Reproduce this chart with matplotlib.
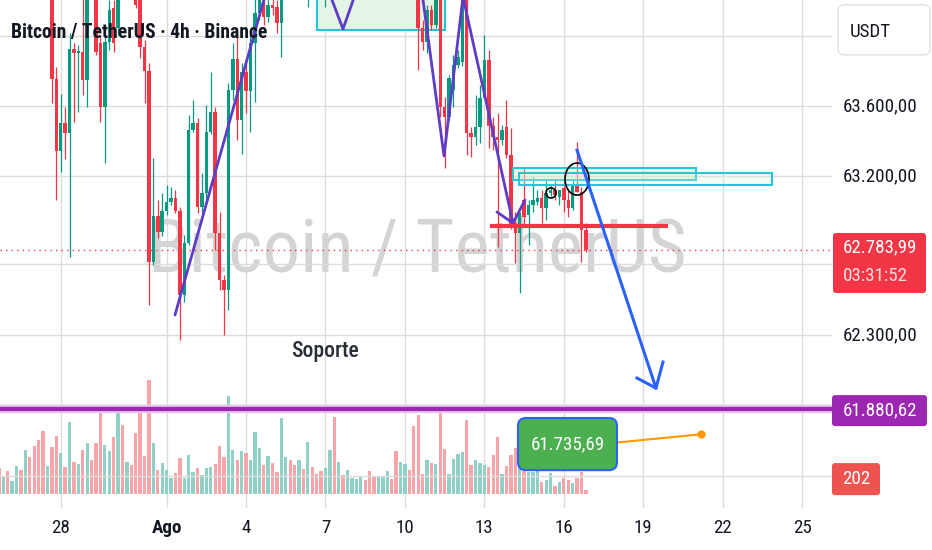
import numpy as np
import matplotlib
matplotlib.use("Agg")
import matplotlib.pyplot as plt
from matplotlib.patches import Rectangle, Ellipse, FancyBboxPatch
from matplotlib import font_manager

# ---------------- data ----------------
# 4h candles, x = days from 28 Jul 00:00 (k/6), first candle k=-14
first_k = -14
opens = [64486, 64401, 64475, 64372, 64441, 64588, 64514, 64702, 64600, 64497, 64361, 64287, 64429, 63753,
         63344, 63503, 63447, 63924, 63901, 63907, 63748, 64372, 64259, 63958, 63594, 63963, 64157, 64043,
         64429, 64316, 64458, 64316, 64230, 63935, 63799, 62714, 62975, 62884, 63004, 63055, 63077, 63004,
         62526, 62822, 63464, 63503, 63026, 63106, 63452, 63566, 62879, 62612, 62555, 63691, 63867, 63520,
         63793, 63685, 63958, 64128, 64174, 64105, 64174, 64162, 64071, 64259, 64429, 64361, 64270, 64384,
         64304, 64475, 64401, 64327, 64259, 64418, 64571, 64372, 64486, 64429, 64514, 64566, 64600, 64645,
         64588, 64520, 64475, 64543, 64588, 64656, 64611, 64458, 64554, 64628, 64554, 64287, 64043, 63963,
         64145, 64060, 64316, 63594, 63537, 63691, 63833, 63850, 64372, 63447, 63424, 63481, 63645, 63861,
         63486, 63424, 63407, 63481, 63322, 62935, 62879, 63066, 62981, 63038, 63055, 63077, 63021, 63106,
         63123, 63083, 63134, 63066, 63021, 63151, 63111, 62896]
highs = [64554, 64514, 64531, 64486, 64628, 64656, 64742, 64770, 64645, 64543, 64458, 64486, 64475, 63821,
         63668, 63594, 64015, 63958, 63946, 64230, 64287, 64429, 64316, 64003, 64003, 64202, 64202, 64344,
         64486, 64514, 64514, 64372, 64287, 63975, 63844, 63305, 63066, 63106, 63151, 63140, 63123, 63026,
         62867, 63549, 63634, 63532, 63219, 63606, 63793, 63594, 62998, 62640, 63731, 63958, 64015, 63844,
         63844, 64015, 64230, 64372, 64230, 64230, 64230, 64202, 64316, 64475, 64486, 64401, 64429, 64441,
         64514, 64543, 64458, 64372, 64458, 64628, 64713, 64531, 64543, 64554, 64600, 64645, 64685, 64685,
         64645, 64566, 64577, 64622, 64690, 64702, 64656, 64600, 64668, 64679, 64600, 64344, 64088, 64174,
         64174, 64372, 64372, 63651, 63776, 63890, 63918, 64429, 64458, 63481, 63662, 63719, 64003, 63918,
         63537, 63560, 63492, 63634, 63475, 62998, 62998, 63248, 63066, 63197, 63123, 63123, 63180, 63151,
         63180, 63123, 63168, 63123, 63180, 63396, 63140, 62935]
lows = [64344, 64361, 64316, 64327, 64418, 64458, 64486, 64543, 64429, 64304, 64247, 64259, 63617, 63066,
        63225, 63299, 62742, 63509, 63566, 63662, 63594, 64213, 63890, 63509, 63276, 63918, 63907, 64003,
        64259, 64270, 64287, 64157, 63873, 63617, 62470, 62697, 62850, 62862, 62981, 63038, 62992, 62271,
        62487, 62810, 63452, 62992, 62992, 63066, 63441, 62782, 62555, 62299, 62441, 63634, 63407, 63327,
        63560, 63452, 63623, 64088, 64060, 64077, 64117, 64015, 63878, 64230, 64316, 64230, 64236, 64259,
        64162, 64344, 64287, 64225, 64162, 64372, 64316, 64327, 64372, 64384, 64486, 64531, 64571, 64554,
        64486, 64441, 64441, 64509, 64554, 64577, 64401, 64418, 64514, 64514, 64230, 63804, 63918, 63901,
        64032, 64043, 63537, 63248, 63520, 63594, 63816, 63827, 63322, 63310, 63378, 63390, 63645, 63361,
        63350, 62799, 63378, 63305, 62901, 62708, 62538, 62913, 62810, 62998, 63038, 62935, 62952, 63089,
        63066, 63038, 62998, 62969, 63009, 63111, 62714, 62771]
closes = [64401, 64475, 64372, 64441, 64588, 64514, 64702, 64600, 64497, 64361, 64287, 64429, 63753, 63344,
          63503, 63447, 63924, 63901, 63912, 63748, 64247, 64230, 63907, 63594, 63963, 64145, 63958, 64287,
          64316, 64458, 64344, 64174, 63935, 63799, 62714, 62975, 62884, 63004, 63055, 63077, 63004, 62526,
          62822, 63464, 63503, 63026, 63106, 63452, 63566, 62879, 62612, 62555, 63691, 63867, 63520, 63793,
          63685, 63958, 64128, 64316, 64105, 64174, 64157, 64071, 64259, 64429, 64361, 64270, 64384, 64304,
          64475, 64401, 64327, 64259, 64418, 64571, 64372, 64486, 64429, 64514, 64566, 64600, 64645, 64588,
          64520, 64475, 64543, 64588, 64656, 64611, 64458, 64554, 64628, 64554, 64287, 64043, 63963, 64145,
          64060, 64316, 63594, 63537, 63759, 63833, 63878, 64372, 63447, 63424, 63481, 63645, 63861, 63486,
          63424, 63407, 63464, 63322, 62913, 62879, 62992, 62969, 63038, 63066, 63077, 63021, 63106, 63123,
          63094, 63123, 63066, 63021, 63151, 63111, 62896, 62783.99]
volumes = [1170, 810, 1035, 585, 1260, 1080, 1980, 1665, 2160, 2430, 2835, 1260, 2115, 2610,
           1845, 1215, 3240, 1440, 1350, 1980, 2295, 1530, 2295, 3870, 2205, 1935, 2565, 4005,
           3105, 1440, 1305, 2745, 3780, 1710, 5130, 2295, 1080, 1395, 1080, 720, 945, 1620,
           720, 1755, 990, 1170, 855, 1170, 1215, 1350, 2160, 1665, 4410, 1980, 1530, 1935,
           1845, 1530, 2790, 2070, 1305, 1710, 1395, 990, 3420, 1665, 1530, 1305, 1530, 1125,
           2340, 1215, 900, 1035, 1170, 1980, 3465, 1440, 855, 1080, 720, 675, 810, 630,
           1035, 810, 765, 765, 1035, 675, 1935, 1440, 1350, 1080, 3060, 3555, 900, 1530,
           1395, 1350, 3645, 2025, 900, 1575, 1800, 1890, 3330, 1305, 1530, 1395, 1305, 1215,
           1755, 2565, 900, 1260, 1755, 2070, 1800, 1485, 990, 990, 1080, 540, 630, 945,
           360, 540, 720, 630, 495, 720, 990, 202]

tick_days = [0, 4, 7, 10, 13, 16, 19, 22, 25, 28]
tick_labels = ["28", "Ago", "4", "7", "10", "13", "16", "19", "22", "25"]
grid_prices = [64000, 63600, 63200, 62700, 62300, 61900, 61500]
scale_prices = [63600, 63200, 62300]
scale_texts = ["63.600,00", "63.200,00", "62.300,00"]
last_price = 62783.99
support_price = 61880.62
target_price = 61735.69

# drawings (day, price)
purple_rise = ([4.316, 7.99], [62413, 64372])
purple_v = ([10.133, 10.661, 11.152], [64247, 64037, 64247])
purple_zig = ([13.607, 14.476, 15.193, 17.082, 17.535], [64287, 63316, 64219, 62935, 63066])
purple_small = ([16.475, 17.082], [62998, 62935])
red_level = ([16.296, 22.857], [62918, 62918])
arrow_line = ([19.498, 22.481], [63350, 61998])
arrow_head = ([21.763, 22.481, 22.745], [62055, 61998, 62146])
orange_line = ([21.084, 24.181], [61690, target_price])

# ---------------- fonts ----------------
names = {f.name for f in font_manager.fontManager.ttflist}
base_font = "Roboto" if "Roboto" in names else "DejaVu Sans"
cond_font = base_font
for cand in ["Roboto Condensed", "Sofia Sans Condensed", "Open Sans Condensed", "Saira SemiCondensed"]:
    if cand in names:
        cond_font = cand
        break
plt.rcParams["font.family"] = [cond_font, base_font, "DejaVu Sans"]

W, H = 932, 550
fig = plt.figure(figsize=(W / 100, H / 100), dpi=100)
fig.patch.set_facecolor("white")

plot_right = 832
plot_bottom = 508
rect = [0, (H - plot_bottom) / H, plot_right / W, plot_bottom / H]
xlim = (-2.292, 29.128)
ylim = (61317, 64202)

axv = fig.add_axes(rect)
ax = fig.add_axes(rect)
ax.set_zorder(axv.get_zorder() + 1)
ax.patch.set_visible(False)
for a in (ax, axv):
    a.set_xlim(*xlim)
    for s in a.spines.values():
        s.set_visible(False)
axv.set_ylim(-630, 22230)
ax.set_ylim(*ylim)

grid_color = "#dcdcdc"
for d in tick_days:
    axv.axvline(d, color=grid_color, lw=1, zorder=0)
for p in grid_prices:
    ax.axhline(p, color=grid_color, lw=1, zorder=0)

wm = axv.text(0.502, 0.505, "Bitcoin / TetherUS", transform=axv.transAxes, ha="center", va="center",
              fontsize=60, color="#d4d4d4", zorder=0.5)

x = (np.arange(len(opens)) + first_k) / 6.0
o = np.array(opens, float); c = np.array(closes, float)
hh = np.array(highs, float); ll = np.array(lows, float)
up = c >= o
green, red = "#089981", "#F23645"
cols = np.where(up, green, red)

vcols = np.where(up, "#8fd1c6", "#f7a5a9")
axv.bar(x, volumes, width=0.125, color=vcols, zorder=1)
axv.set_yticks([]); axv.set_xticks([])

ax.vlines(x, ll, hh, colors=cols, lw=0.9, zorder=3)
body_h = np.maximum(np.abs(c - o), 8)
ax.bar(x, body_h, bottom=np.minimum(o, c), width=0.13, color=cols, zorder=3)

# drawings
ax.add_patch(Rectangle((9.679, 64032), 4.834, 400, fc="#e6f4e6", ec="#26c6da", lw=1.5, zorder=2))
ax.add_patch(Rectangle((17.080, 63180), 6.91, 68, fc=(0.85, 0.93, 0.65, 0.35), ec="#26c6da", lw=1.5, zorder=4))
ax.add_patch(Rectangle((17.307, 63151), 9.555, 68, fc=(0.85, 0.95, 0.85, 0.3), ec="#26c6da", lw=1.5, zorder=4))
ax.add_patch(Ellipse((19.498, 63185), 0.906, 182, fill=False, ec="black", lw=1.2, zorder=5))
ax.add_patch(Ellipse((18.516, 63106), 0.378, 57, fill=False, ec="black", lw=1.2, zorder=5))

purple = "#5e3cc6"
for xs, ys in (purple_rise, purple_v, purple_zig, purple_small):
    ax.plot(xs, ys, color=purple, lw=2, zorder=5, solid_capstyle="round")
ax.plot(*red_level, color=red, lw=3, zorder=5)
ax.plot(*arrow_line, color="#2962FF", lw=2.2, zorder=5)
ax.plot(*arrow_head, color="#2962FF", lw=2.2, zorder=5)

ax.axhline(last_price, color=red, lw=1, ls=(0, (1, 3)), zorder=4)
ax.axhline(support_price, color="#e6c3ee", lw=6, zorder=4)
ax.axhline(support_price, color="#9C27B0", lw=3, zorder=4)

ax.plot(*orange_line, color="#FF9800", lw=1.5, zorder=5)
ax.plot([orange_line[0][1]], [target_price], "o", color="#FF9800", ms=5, zorder=5)
ax.add_patch(FancyBboxPatch((17.269, 61532), 3.739, 296, boxstyle="round,pad=0,rounding_size=0.3",
                            mutation_aspect=150.4, fc="#4CAF50", ec="#2962FF", lw=1.5, zorder=6))
tgt = ax.text(19.139, 61680, "61.735,69", color="white", fontsize=14, ha="center", va="center", zorder=7)

sop = ax.text(9.981, 62208, "Soporte", color="#2a2e39", fontsize=14, fontweight="medium",
              ha="center", va="center", zorder=6)
title = ax.text(0.013, 0.937, "Bitcoin / TetherUS · 4h · Binance", transform=ax.transAxes, fontsize=14,
                fontweight="bold", color="#131722", ha="left", va="center", zorder=6)

ax.set_xticks(tick_days)
ax.set_xticklabels(tick_labels)
ax.set_yticks([])
ax.tick_params(axis="x", length=0, pad=8, labelsize=14, labelcolor="#131722")
ax.get_xticklabels()[1].set_fontweight("bold")

# price scale
axr = fig.add_axes([plot_right / W, (H - plot_bottom) / H, (W - plot_right) / W, plot_bottom / H])
axr.set_xlim(0, W - plot_right)
axr.set_ylim(*ylim)
axr.axis("off")
scale_objs = []
for p, t in zip(scale_prices, scale_texts):
    scale_objs.append(axr.text(11, p, t, ha="left", va="center", fontsize=14, color="#131722"))
asp = 5.68
axr.add_patch(FancyBboxPatch((6, 63890), 92, 284, boxstyle="round,pad=0,rounding_size=6",
                             mutation_aspect=asp, fc="white", ec="#e0e3eb", lw=1))
usdt = axr.text(18, 64020, "USDT", ha="left", va="center", fontsize=14, color="#131722")
axr.add_patch(FancyBboxPatch((1, 62538), 93, 341, boxstyle="round,pad=0,rounding_size=3",
                             mutation_aspect=asp, fc=red, ec="none"))
l1 = axr.text(11, 62799, "62.783,99", ha="left", va="center", fontsize=14, color="white")
l2 = axr.text(11, 62634, "03:31:52", ha="left", va="center", fontsize=14, color="#fde0e2")
axr.add_patch(FancyBboxPatch((0, 61782), 95, 176, boxstyle="round,pad=0,rounding_size=3",
                             mutation_aspect=asp, fc="#9C27B0", ec="none"))
l3 = axr.text(11, 61873, "61.880,62", ha="left", va="center", fontsize=14, color="white")
axr.add_patch(FancyBboxPatch((0, 61390), 48, 182, boxstyle="round,pad=0,rounding_size=3",
                             mutation_aspect=asp, fc="#EF5350", ec="none"))
l4 = axr.text(24, 61481, "202", ha="center", va="center", fontsize=14, color="white")

# fit text widths to the reference
fig.canvas.draw()
rnd = fig.canvas.get_renderer()


def fit(obj, target):
    w = obj.get_window_extent(rnd).width
    size = obj.get_fontsize() * target / w
    obj.set_fontsize(size)
    return size


fit(wm, 538)
fit(title, 258)
fit(sop, 68)
lab_size = fit(scale_objs[0], 75)
for t in scale_objs[1:] + [usdt, l1, l2, l3, l4, tgt]:
    t.set_fontsize(lab_size)
ax.tick_params(axis="x", labelsize=lab_size)

fig.savefig("out.png", dpi=100, facecolor="white")
